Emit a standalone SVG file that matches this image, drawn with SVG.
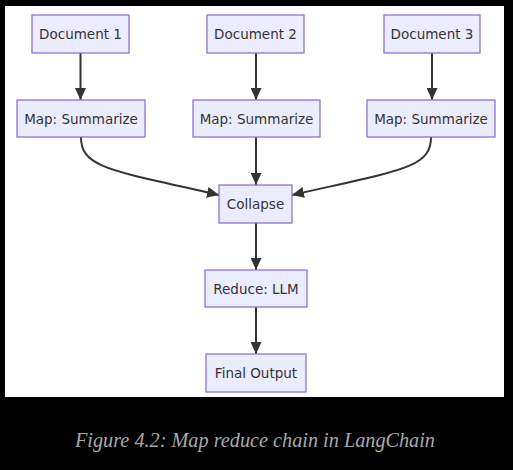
<svg xmlns="http://www.w3.org/2000/svg" width="513" height="470" viewBox="0 0 513 470">
<defs>
<marker id="ah" viewBox="0 0 12 11" refX="12" refY="5.5" markerWidth="12" markerHeight="11" markerUnits="userSpaceOnUse" orient="auto">
<path d="M0,0 L12,5.5 L0,11 z" fill="#333"/>
</marker>
<style>
.n rect{fill:#ECECFF;stroke:#9370DB;stroke-width:1.3}
.n text{font-family:"DejaVu Sans",sans-serif;font-size:13.5px;fill:#333;text-anchor:middle;dominant-baseline:central}
.e path{fill:none;stroke:#333;stroke-width:2;marker-end:url(#ah)}
.cap{font-family:"Liberation Serif",serif;font-style:italic;font-size:20px;fill:#a8a8a8;text-anchor:middle}
</style>
</defs>
<rect x="0" y="0" width="513" height="470" fill="#000"/>
<rect x="5" y="6" width="499" height="391" fill="#fff"/>
<g class="e" id="connectors">
<path d="M80.5,53 V100"/>
<path d="M256,53 V100"/>
<path d="M432,53 V100"/>
<path d="M81,137 C81,168 110,170 219,195"/>
<path d="M256,137 V185"/>
<path d="M431,137 C431,168 402,170 292,195"/>
<path d="M256,223 V270"/>
<path d="M256,307 V354"/>
</g>
<g class="n" id="doc1"><rect x="32" y="15" width="97" height="38"/><text x="80.5" y="34">Document 1</text></g>
<g class="n" id="doc2"><rect x="207" y="15" width="97" height="38"/><text x="255.5" y="34">Document 2</text></g>
<g class="n" id="doc3"><rect x="384" y="15" width="96" height="38"/><text x="432" y="34">Document 3</text></g>
<g class="n" id="map1"><rect x="17" y="100" width="128" height="37"/><text x="81" y="118.5">Map: Summarize</text></g>
<g class="n" id="map2"><rect x="193" y="100" width="127" height="37"/><text x="256.5" y="118.5">Map: Summarize</text></g>
<g class="n" id="map3"><rect x="367" y="100" width="128" height="37"/><text x="431" y="118.5">Map: Summarize</text></g>
<g class="n" id="collapse"><rect x="219" y="185" width="73" height="38"/><text x="255.5" y="204">Collapse</text></g>
<g class="n" id="reduce"><rect x="205" y="270" width="102" height="37"/><text x="256" y="288.5">Reduce: LLM</text></g>
<g class="n" id="final"><rect x="206" y="354" width="100" height="38"/><text x="256" y="373">Final Output</text></g>
<text class="cap" x="255" y="447" textLength="360" lengthAdjust="spacingAndGlyphs">Figure 4.2: Map reduce chain in LangChain</text>
</svg>
